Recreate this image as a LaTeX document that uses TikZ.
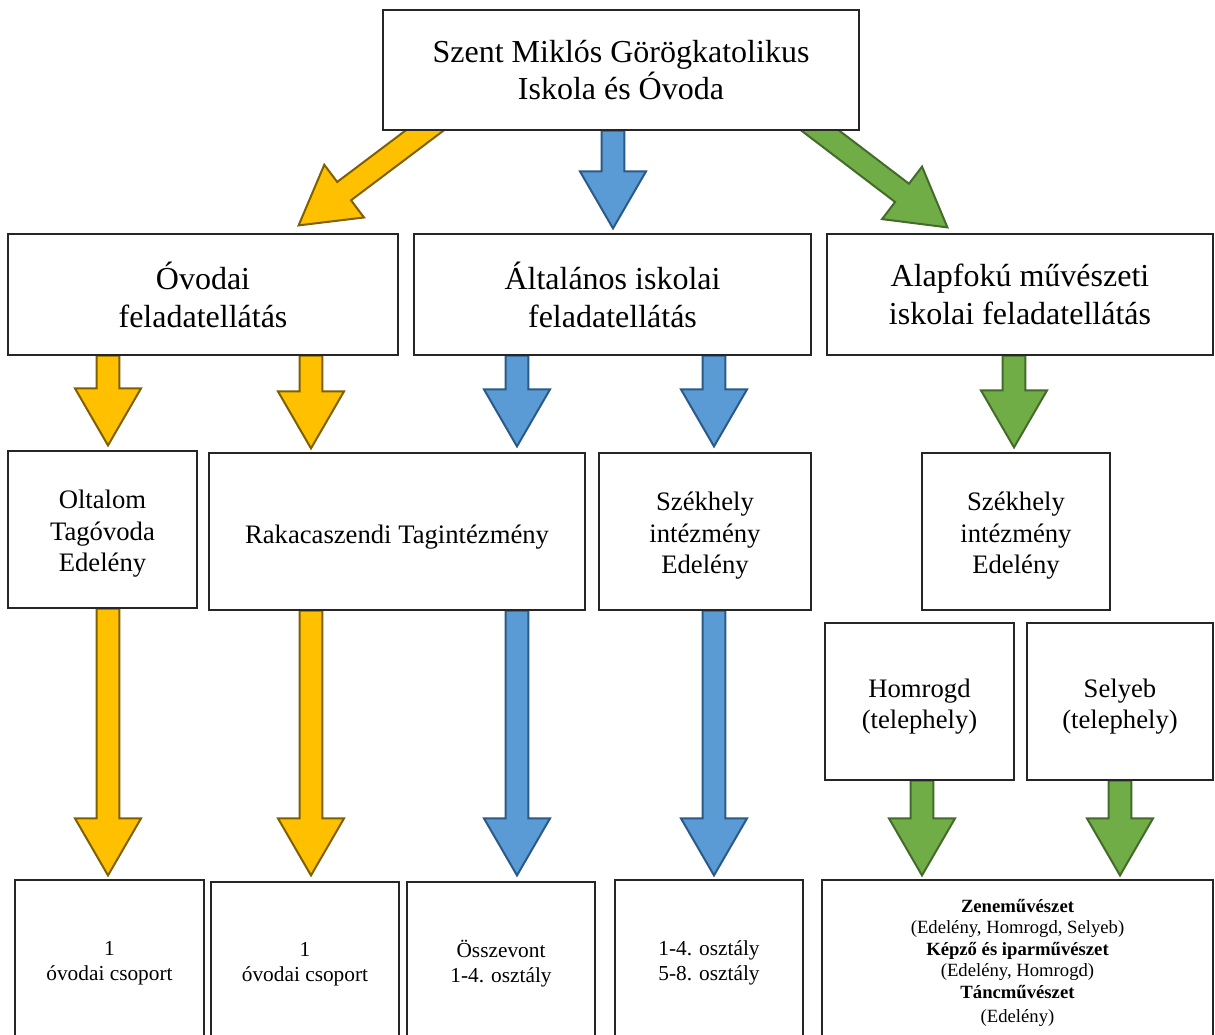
\documentclass[tikz,border=0pt]{standalone}
\usepackage{fontspec}
\setmainfont{Liberation Serif}
\usetikzlibrary{calc}
\pgfdeclarelayer{bg}
\pgfsetlayers{bg,main}
\definecolor{yfill}{HTML}{FFC000}
\definecolor{ydraw}{HTML}{7F6000}
\definecolor{bfill}{HTML}{5B9BD5}
\definecolor{bdraw}{HTML}{2A5A88}
\definecolor{gfill}{HTML}{70AD47}
\definecolor{gdraw}{HTML}{456B2B}
\tikzset{
  box/.style={draw=black!85, line width=0.9pt, fill=white, align=center, inner sep=0pt},
  fbig/.style={font=\fontsize{24}{27.9}\selectfont},
  fmid/.style={font=\fontsize{24}{28.5}\selectfont},
  fsm/.style={font=\fontsize{20}{23.6}\selectfont},
  fbot/.style={font=\fontsize{16}{18.75}\selectfont},
  fbr/.style={font=\fontsize{14}{16.1}\selectfont},
  yarrow/.style={fill=yfill, draw=ydraw, line width=1.5pt},
  barrow/.style={fill=bfill, draw=bdraw, line width=1.5pt},
  garrow/.style={fill=gfill, draw=gdraw, line width=1.5pt}
}
\newcommand\st[1]{\rule{0pt}{#1pt}}
\newcommand\bx[7]{%
  \node[box,#6,minimum width={(#4-#2)*0.75pt},minimum height={(#5-#3)*0.75pt}] (#1) at ({(#2+#4)/2},{(#3+#5)/2}) {#7};}
\newcommand\blockarrow[3]{%
  \begin{pgfonlayer}{bg}
  \path (#2) coordinate (ba-s) (#3) coordinate (ba-t);
  \path ($(ba-t)!42.75pt!(ba-s)$) coordinate (ba-h);
  \draw[#1] ($(ba-s)!8.6pt!90:(ba-t)$) -- ($(ba-h)!8.6pt!90:(ba-t)$) -- ($(ba-h)!24.75pt!90:(ba-t)$) -- (ba-t)
    -- ($(ba-h)!24.75pt!-90:(ba-t)$) -- ($(ba-h)!8.6pt!-90:(ba-t)$) -- ($(ba-s)!8.6pt!-90:(ba-t)$) -- cycle;
  \end{pgfonlayer}}
\begin{document}
\begin{tikzpicture}[x=0.75pt,y=-0.75pt]
\useasboundingbox (0,0) rectangle (1215,1035);
\begin{pgfonlayer}{bg}
\fill[white] (0,0) rectangle (1215,1035);
\end{pgfonlayer}
\clip (0,0) rectangle (1215,1035);
% boxes
\bx{top}{383}{10}{859}{130}{fbig}{Szent Miklós Görögkatolikus\\Iskola és Óvoda}
\bx{ovoda}{8}{234}{398}{355}{fmid}{Óvodai\\feladatellátás}
\bx{altal}{414}{234}{811}{355}{fmid}{Általános iskolai\\feladatellátás}
\bx{alap}{827}{234}{1213}{355}{fmid}{Alapfokú művészeti\\iskolai feladatellátás}
\bx{oltalom}{8}{451}{197}{608}{fsm}{\st{20.5}Oltalom\\Tagóvoda\\Edelény}
\bx{rakaca}{209}{453}{585}{610}{fsm}{\st{22.7}Rakacaszendi Tagintézmény}
\bx{szekA}{599}{453}{811}{610}{fsm}{\st{20.5}Székhely\\intézmény\\Edelény}
\bx{szekB}{922}{453}{1110}{610}{fsm}{\st{20.5}Székhely\\intézmény\\Edelény}
\bx{homrogd}{825}{623}{1014}{780}{fsm}{\st{21.7}Homrogd\\(telephely)}
\bx{selyeb}{1027}{623}{1213}{780}{fsm}{\st{21.7}Selyeb\\(telephely)}
\bx{bot1}{15}{880}{204}{1040}{fbot}{\st{15.4}1\\óvodai csoport}
\bx{bot2}{211}{882}{399}{1040}{fbot}{\st{16}1\\óvodai csoport}
\bx{bot3}{407}{882}{595}{1040}{fbot}{\st{17.5}Összevont\\1-4. osztály}
\bx{bot4}{615}{880}{803}{1040}{fbot}{\st{15.4}1-4. osztály\\5-8. osztály}
\bx{bot5}{822}{880}{1213}{1040}{fbr}{\st{14}\textbf{Zeneművészet}\\(Edelény, Homrogd, Selyeb)\\\textbf{Képző és iparművészet}\\(Edelény, Homrogd)\\\textbf{Táncművészet}\\[2pt](Edelény)}
% column helpers
\coordinate (colA) at (108,0);
\coordinate (colB) at (311,0);
\coordinate (colC) at (517,0);
\coordinate (colD) at (714,0);
\coordinate (colE) at (1014,0);
\coordinate (colF) at (922,0);
\coordinate (colG) at (1120,0);
\coordinate (colT) at (613,0);
% diagonal arrow ends
\coordinate (dyS) at ($(top.south west)+(62,-15)$);
\coordinate (dyT) at ($(ovoda.north east)+(-100,-8)$);
\coordinate (dgS) at ($(top.south east)+(-59,-15)$);
\coordinate (dgT) at ($(alap.north west)+(121,-6)$);
% arrows
\blockarrow{yarrow}{dyS}{dyT}
\blockarrow{barrow}{top.south -| colT}{$(altal.north -| colT)+(0,-5)$}
\blockarrow{garrow}{dgS}{dgT}
\blockarrow{yarrow}{ovoda.south -| colA}{$(oltalom.north -| colA)+(0,-5)$}
\blockarrow{yarrow}{ovoda.south -| colB}{$(rakaca.north -| colB)+(0,-4)$}
\blockarrow{barrow}{altal.south -| colC}{$(rakaca.north -| colC)+(0,-6)$}
\blockarrow{barrow}{altal.south -| colD}{$(szekA.north -| colD)+(0,-6)$}
\blockarrow{garrow}{alap.south -| colE}{$(szekB.north -| colE)+(0,-5)$}
\blockarrow{yarrow}{oltalom.south -| colA}{$(bot1.north -| colA)+(0,-4)$}
\blockarrow{yarrow}{rakaca.south -| colB}{$(bot2.north -| colB)+(0,-6)$}
\blockarrow{barrow}{rakaca.south -| colC}{$(bot3.north -| colC)+(0,-6)$}
\blockarrow{barrow}{szekA.south -| colD}{$(bot4.north -| colD)+(0,-4)$}
\blockarrow{garrow}{homrogd.south -| colF}{$(bot5.north -| colF)+(0,-4)$}
\blockarrow{garrow}{selyeb.south -| colG}{$(bot5.north -| colG)+(0,-4)$}
\end{tikzpicture}
\end{document}
